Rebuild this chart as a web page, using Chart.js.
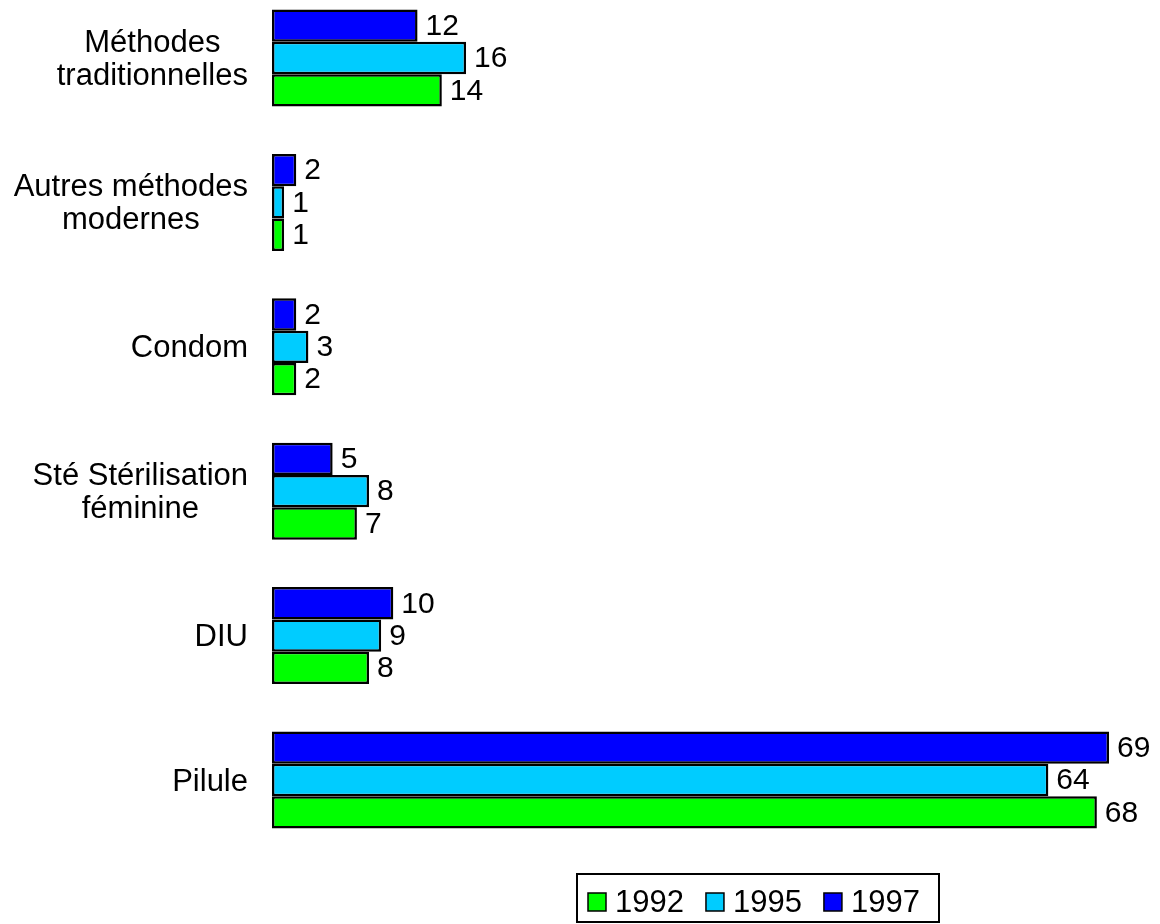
<!DOCTYPE html>
<html>
<head>
<meta charset="utf-8">
<script src="https://cdn.jsdelivr.net/npm/chart.js@4"></script>
<style>
  html, body { margin: 0; padding: 0; background: #fff; }
  canvas { display: block; }
</style>
</head>
<body>
<canvas id="chart" width="1160" height="924"></canvas>
<script>
// data
const categories = [
    ['Méthodes', 'traditionnelles'],
    ['Autres méthodes', 'modernes'],
    ['Condom'],
    ['Sté Stérilisation', 'féminine'],
    ['DIU'],
    ['Pilule']
];
const years = ['1992', '1995', '1997'];
const values1992 = [14, 1, 2, 7, 8, 68];
const values1995 = [16, 1, 3, 8, 9, 64];
const values1997 = [12, 2, 2, 5, 10, 69];
const colors = { '1992': '#00ff00', '1995': '#00ccff', '1997': '#0000ff' };

const FONT = '"Liberation Sans", Arial, sans-serif';

// y category labels: each line centred, block right-aligned next to the bars
const catLabels = {
    id: 'catLabels',
    afterDraw(chart) {
        const ctx = chart.ctx, y = chart.scales.y;
        ctx.save();
        ctx.font = '31px ' + FONT;
        ctx.fillStyle = '#000';
        ctx.textAlign = 'center';
        ctx.textBaseline = 'middle';
        categories.forEach((lines, i) => {
            const cy = y.getPixelForTick(i) + 2;
            const w = Math.max(...lines.map(l => ctx.measureText(l).width));
            const cx = 248 - w / 2;
            const lh = 33;
            lines.forEach((l, j) => {
                ctx.fillText(l, cx, cy + (j - (lines.length - 1) / 2) * lh);
            });
        });
        ctx.restore();
    }
};

// value labels at the end of each bar
const valueLabels = {
    id: 'valueLabels',
    afterDatasetsDraw(chart) {
        const ctx = chart.ctx;
        ctx.save();
        ctx.font = '30px ' + FONT;
        ctx.fillStyle = '#000';
        ctx.textAlign = 'left';
        ctx.textBaseline = 'middle';
        chart.data.datasets.forEach((ds, di) => {
            chart.getDatasetMeta(di).data.forEach((bar, i) => {
                ctx.fillText(String(ds.data[i]), bar.x + 8, bar.y + 1);
            });
        });
        ctx.restore();
    }
};

// boxed legend under the plot
const boxLegend = {
    id: 'boxLegend',
    afterDraw(chart) {
        const ctx = chart.ctx;
        ctx.save();
        ctx.lineWidth = 2;
        ctx.strokeStyle = '#000';
        ctx.strokeRect(577, 874, 362, 48);
        ctx.font = '31px ' + FONT;
        ctx.textBaseline = 'alphabetic';
        ctx.textAlign = 'left';
        let x = 588;
        years.forEach(yr => {
            ctx.fillStyle = colors[yr];
            ctx.fillRect(x, 893, 18, 18);
            ctx.lineWidth = 1.5;
            ctx.strokeRect(x, 893, 18, 18);
            ctx.fillStyle = '#000';
            ctx.fillText(yr, x + 27, 912);
            x += 27 + ctx.measureText(yr).width + 22;
        });
        ctx.restore();
    }
};

const mk = (yr, data) => ({
    label: yr,
    data,
    backgroundColor: colors[yr],
    borderColor: '#000',
    borderWidth: 2.5,
    borderSkipped: false,
    clip: false
});

new Chart(document.getElementById('chart'), {
    type: 'bar',
    data: {
        labels: categories,
        datasets: [mk('1997', values1997), mk('1995', values1995), mk('1992', values1992)]
    },
    options: {
        indexAxis: 'y',
        responsive: false,
        animation: false,
        devicePixelRatio: 1,
        categoryPercentage: 0.672,
        barPercentage: 1,
        layout: { padding: { left: 264, right: 51, top: 58, bottom: 144 } },
        plugins: { legend: { display: false }, tooltip: { enabled: false } },
        scales: {
            x: { min: 0, max: 69, display: false },
            y: {
                offset: false,
                grid: { display: false, offset: false },
                border: { display: false },
                ticks: { display: false }
            }
        }
    },
    plugins: [catLabels, valueLabels, boxLegend]
});
</script>
</body>
</html>
